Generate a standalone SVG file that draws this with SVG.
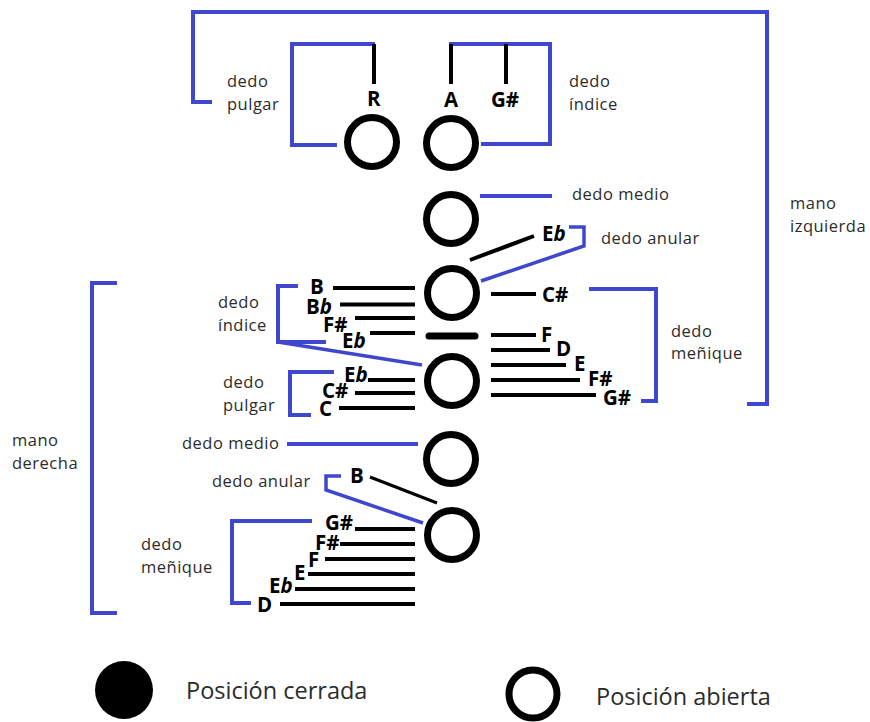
<svg xmlns="http://www.w3.org/2000/svg" width="870" height="722" viewBox="0 0 870 722">
<style>
.c{fill:#fff;stroke:#000;stroke-width:7}
.b{fill:none;stroke:#3f48cc;stroke-width:4}
.d{fill:none;stroke:#3f48cc;stroke-width:3.500}
.k{fill:none;stroke:#000;stroke-width:4}
.n{font-family:"Open Sans","Noto Sans",sans-serif;font-weight:700;font-size:20.500px;fill:#000}
.n tspan{font-style:italic}
.l{font-family:"Open Sans","Noto Sans",sans-serif;font-size:16.500px;letter-spacing:.5px;fill:#2b2b2b}
.p{font-family:"Open Sans","Noto Sans",sans-serif;font-size:23.500px;fill:#2b2b2b}
</style>
<rect width="870" height="722" fill="#fff"/>
<g id="connectors">
<path class="b" d="M212 102H193V12H767V404H747"/>
<path class="b" d="M337 145H292V44H375"/>
<path class="b" d="M449 44H550V144H481"/>
<path class="b" d="M480 196H552"/>
<path class="d" d="M569 227H584V246L481 281"/>
<path class="b" d="M589 289H656V401H641"/>
<path class="b" d="M298 286H278V342H326"/>
<path class="d" d="M278 342L422 365"/>
<path class="b" d="M334 372H290V415H311"/>
<path class="b" d="M287 444H418"/>
<path class="d" d="M341 476H326V490L423 523"/>
<path class="b" d="M312 521H232V603H251"/>
<path class="b" d="M117 283H92V613H117"/>
<path class="k" d="M374 44V84M451 44V84M506 44V84"/>
<path class="k" d="M470 260L534 236"/>
<path class="k" d="M491 294H536M491 335H536M491 350H550M491 365H566M491 380H580M491 395H596"/>
<path class="k" d="M333 288H415M340 304.500H415M355 318H415M370 333H415"/>
<path class="k" d="M368 380H415M355 393H415M339 408H415"/>
<path class="k" style="stroke-width:3" d="M370 477L437 503"/>
<path class="k" d="M355 529H415M340 544H415M325 559H415M308 574H415M295 589H415M280 604H415"/>
<path d="M429 336H475" fill="none" stroke="#000" stroke-width="7" stroke-linecap="round"/>
</g>
<g id="hole-r"><circle class="c" cx="372" cy="142" r="24.500"/></g>
<g id="hole-a"><circle class="c" cx="451" cy="143" r="24.500"/></g>
<g id="hole-2"><circle class="c" cx="451" cy="219" r="24.500"/></g>
<g id="hole-3"><circle class="c" cx="452" cy="293" r="24.500"/></g>
<g id="hole-4"><circle class="c" cx="452" cy="381" r="24.500"/></g>
<g id="hole-5"><circle class="c" cx="451" cy="459" r="24.500"/></g>
<g id="hole-6"><circle class="c" cx="452" cy="535" r="24.500"/></g>
<g id="notes">
<text class="n" x="367" y="106">R</text>
<text class="n" x="444" y="107">A</text>
<text class="n" x="491" y="107">G#</text>
<text class="n" x="542" y="241">E<tspan>b</tspan></text>
<text class="n" x="542" y="302">C#</text>
<text class="n" x="541" y="342">F</text>
<text class="n" x="556" y="356">D</text>
<text class="n" x="574" y="371">E</text>
<text class="n" x="588" y="386">F#</text>
<text class="n" x="603" y="405">G#</text>
<text class="n" x="310" y="294">B</text>
<text class="n" x="306" y="314">B<tspan>b</tspan></text>
<text class="n" x="323" y="332">F#</text>
<text class="n" x="342" y="348">E<tspan>b</tspan></text>
<text class="n" x="344" y="382">E<tspan>b</tspan></text>
<text class="n" x="322" y="398">C#</text>
<text class="n" x="319" y="416">C</text>
<text class="n" x="350" y="483">B</text>
<text class="n" x="325" y="530">G#</text>
<text class="n" x="315" y="550">F#</text>
<text class="n" x="308" y="567">F</text>
<text class="n" x="294" y="580">E</text>
<text class="n" x="269" y="593">E<tspan>b</tspan></text>
<text class="n" x="257" y="612">D</text>
</g>
<g id="labels">
<text class="l" x="227" y="87">dedo</text>
<text class="l" x="227" y="110">pulgar</text>
<text class="l" x="569" y="87">dedo</text>
<text class="l" x="569" y="110">índice</text>
<text class="l" x="572" y="200">dedo medio</text>
<text class="l" x="601" y="244">dedo anular</text>
<text class="l" x="790" y="209">mano</text>
<text class="l" x="790" y="232">izquierda</text>
<text class="l" x="671" y="337">dedo</text>
<text class="l" x="671" y="359">meñique</text>
<text class="l" x="218" y="308">dedo</text>
<text class="l" x="218" y="331">índice</text>
<text class="l" x="223" y="388">dedo</text>
<text class="l" x="223" y="411">pulgar</text>
<text class="l" x="12" y="446">mano</text>
<text class="l" x="12" y="469">derecha</text>
<text class="l" x="182" y="449">dedo medio</text>
<text class="l" x="212" y="487">dedo anular</text>
<text class="l" x="141" y="550">dedo</text>
<text class="l" x="141" y="573">meñique</text>
</g>
<g id="legend-closed">
<circle cx="124" cy="690" r="29" fill="#000"/>
<text class="p" x="186" y="699">Posición cerrada</text>
</g>
<g id="legend-open">
<circle class="c" cx="533" cy="694" r="24"/>
<text class="p" x="596" y="705">Posición abierta</text>
</g>
</svg>
